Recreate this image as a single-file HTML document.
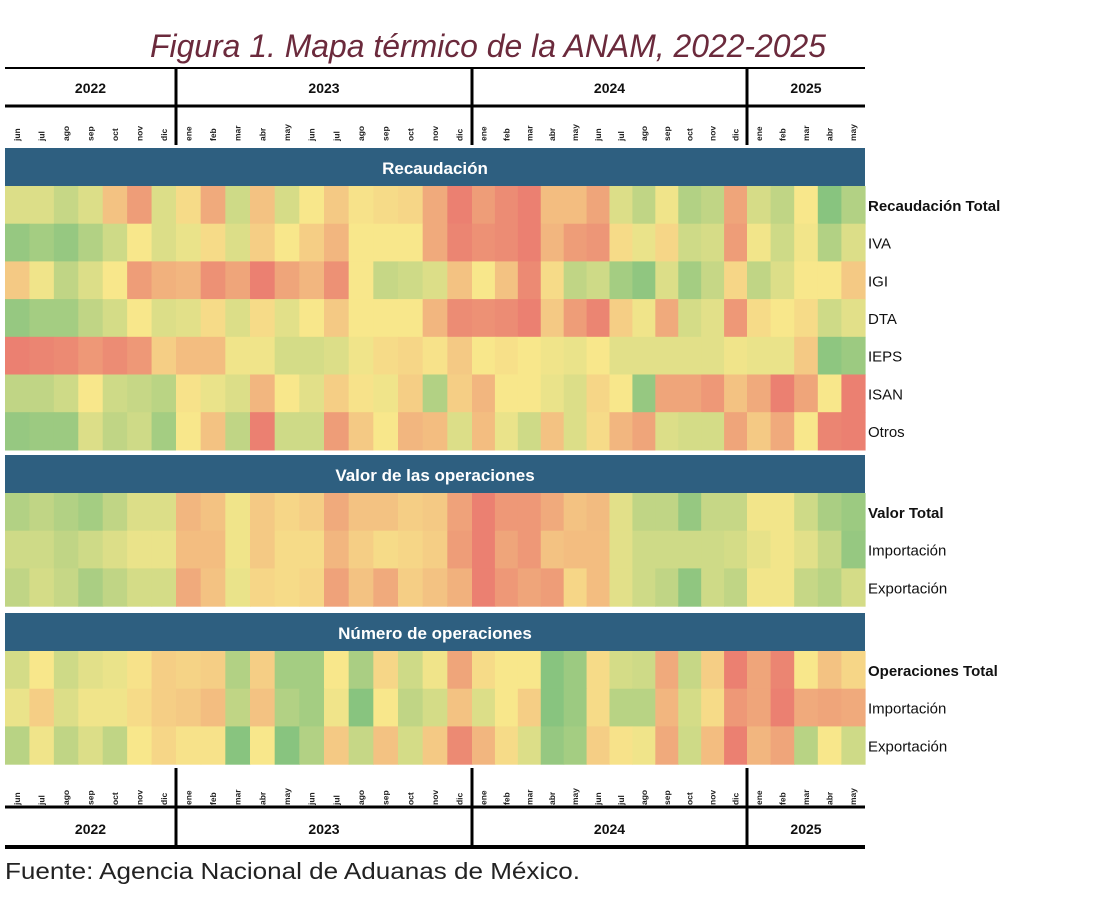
<!DOCTYPE html>
<html><head><meta charset="utf-8"><style>
html,body{margin:0;padding:0;background:#fff;width:1101px;height:901px;overflow:hidden}
svg{display:block}
text{font-family:"Liberation Sans",sans-serif}
</style></head><body>
<svg id="chart" width="1101" height="901" viewBox="0 0 1101 901" xmlns="http://www.w3.org/2000/svg">
<text x="150" y="57" textLength="676" lengthAdjust="spacingAndGlyphs" font-size="32" font-style="italic" fill="#6b2a3c">Figura 1. Mapa térmico de la ANAM, 2022-2025</text>
<text x="5" y="879" textLength="575" lengthAdjust="spacingAndGlyphs" font-size="23" fill="#222">Fuente: Agencia Nacional de Aduanas de México.</text>
</svg>
<script>
const years = ["2022","2023","2024","2025"];
const monthsPerYear = [
  ["jun","jul","ago","sep","oct","nov","dic"],
  ["ene","feb","mar","abr","may","jun","jul","ago","sep","oct","nov","dic"],
  ["ene","feb","mar","abr","may","jun","jul","ago","sep","oct","nov","dic"],
  ["ene","feb","mar","abr","may"]
];
const sections = ["Recaudación","Valor de las operaciones","Número de operaciones"];
const rowLabels = [
  ["Recaudación Total","IVA","IGI","DTA","IEPS","ISAN","Otros"],
  ["Valor Total","Importación","Exportación"],
  ["Operaciones Total","Importación","Exportación"]
];
// scores 0 (red) .. 5 (yellow) .. 10 (green)
const recTotal = [6,6,6.8,6,3.5,2,6,4.5,2.5,6.5,3.5,6.2,5,3.8,4.8,4.5,4.3,2.5,0.8,2,1.3,0.8,3.3,3.3,2.3,6,7,5.3,7.5,7,2.3,6.2,7,5,9,7.5];
const recIVA = [8.5,8,8.5,7.5,6.5,5,6,5.5,4.5,6,4,5,4,3,5,5,5,2.5,1,1.5,1.3,0.8,3,2,1.7,4.5,5.5,4.3,6.5,6.2,2,5.2,6.5,5.2,7.5,6];
const recIGI = [3.8,5.3,7,6,5,2,2.8,3,1.5,2.3,0.8,2.3,3,1.5,5,6.8,6.5,6,3.5,5,3.5,1.2,4.5,7,6.5,8,8.7,6,8,6.8,4.3,7,6,5,5,3.8];
const recDTA = [8.5,8,8,7,6.3,5,6,5.8,4.5,6,4.5,5.8,5,3.8,5,5,5,3,1.3,1.5,1.3,0.8,3.8,2,1,4,5.3,2.5,6.3,5.8,1.8,4.5,5,4.5,6.5,5.8];
const recIEPS = [0.8,1,1.2,1.8,1.3,1.8,4,3.3,3.3,5.3,5.3,6.3,6.3,6,5.3,4.5,4.3,4.8,3.8,5,4.7,5,5.3,5.5,5,5.8,5.8,5.8,5.8,5.8,5.3,5.5,5.5,3.8,8.8,8.3];
const recISAN = [7,7,6.5,5,6.5,6.8,7.2,4.8,5.5,6,3,5,5.8,4,4.8,5.3,4,7.5,4,3,5,5,5.5,6,4.3,5,8.5,2.3,2.3,1.8,3.5,2.5,0.8,2.3,5,0.8];
const recOtros = [8.5,8.3,8.3,6,7,6.5,8,5,3.5,7,0.8,6.5,6.5,2,3.8,5,3,3.3,6,3.3,5.5,6.5,3.5,6,4.5,3,2.3,6,6.3,6.3,2.3,3.8,2.5,5,1,0.8];
const valTotal = [7.5,7,7.5,8,7,6,6,3,3.5,5.3,3.8,4.3,4,2.5,3.5,3.5,4,3.8,2.2,0.8,1.8,1.8,2.5,3.5,3.2,5.8,7,7,8.5,6.8,6.8,5.2,5.2,6.5,7.8,8.3];
const valImp = [6.5,6.5,7,6.5,6,5.5,5.5,3.3,3.3,5.3,3.8,4.5,4.5,3,4,4.5,4.3,4,2,0.8,2.3,1.8,3.5,3.3,3.3,5.8,6.5,6.5,6.5,6.5,6.3,5.6,5.2,5.8,6.8,8.5];
const valExp = [7,6.3,6.8,7.8,7,6.3,6.3,2.5,3.5,5.5,4.3,4.5,4.3,2.2,3.5,2.5,4,3.5,2.8,0.8,1.8,2.3,2,4.3,3.3,5.8,6.5,7,8.7,6.5,7,5.2,5.2,6.8,7.3,6.3];
const opsTotal = [6.3,5,6.5,5.8,5.5,4.8,4,4.2,4,7.5,4,8,8,5,7.8,4.3,6.5,5.3,2.3,4.5,5,5,9,8.3,4.5,6.3,6.5,2.5,6.8,4,0.8,2.3,1,5,3.5,4.3];
const opsImp = [5.5,4,6,5.3,5.3,4.5,4,3.8,3.3,7,3.5,7.5,8,5.3,9,5,7,6.3,3.5,6,5,4,9,8.3,4.5,7.3,7.3,3,6.3,4.5,1.8,2.3,0.8,2.5,2.3,2.5];
const opsExp = [7.3,5.3,7,6,7,5,4.3,4.8,4.8,9,5,9,7.5,3.8,6.8,3.5,6.3,3.8,1.2,3,4.5,6,8.5,8,4,4.8,5.3,2.5,6.5,3.3,0.8,3,2.3,7.3,5,6.5];
const sectionSeries = [
  [recTotal,recIVA,recIGI,recDTA,recIEPS,recISAN,recOtros],
  [valTotal,valImp,valExp],
  [opsTotal,opsImp,opsExp]
];

// layout
const NS="http://www.w3.org/2000/svg";
const svg=document.getElementById('chart');
const yearEdges=[5,176,472,747,865];
const sectionTop=[148,455,613];
const headerH=38, rowH=37.7;
function mk(tag,attrs){const e=document.createElementNS(NS,tag);for(const k in attrs)e.setAttribute(k,attrs[k]);return e;}
const colYear=[],colInYear=[];
monthsPerYear.forEach((m,yi)=>m.forEach((_,mi)=>{colYear.push(yi);colInYear.push(mi);}));
function xCol(i){const yi=colYear[i];const w=(yearEdges[yi+1]-yearEdges[yi])/monthsPerYear[yi].length;return yearEdges[yi]+colInYear[i]*w;}
function wCol(i){const yi=colYear[i];return (yearEdges[yi+1]-yearEdges[yi])/monthsPerYear[yi].length;}
function lerp(a,b,t){return a.map((v,k)=>Math.round(v+(b[k]-v)*t));}
const cRed=[232,108,108],cYel=[248,231,139],cGrn=[108,187,124];
function color(v){const t=Math.max(0,Math.min(10,v))/10;const c=t<0.5?lerp(cRed,cYel,t*2):lerp(cYel,cGrn,(t-0.5)*2);return `rgb(${c[0]},${c[1]},${c[2]})`;}

sectionSeries.forEach((rows,si)=>{
  const top=sectionTop[si];
  const h=mk('rect',{x:5,y:top,width:860,height:headerH,fill:'#2e5f80'});
  
  
  svg.appendChild(h);
  const ht=mk('text',{x:435,y:top+26,'text-anchor':'middle','font-size':17,'font-weight':'bold',fill:'#fff'});
  ht.textContent=sections[si];
  
  
  svg.appendChild(ht);
  rows.forEach((vals,ri)=>{
    const y=top+headerH+ri*rowH;
    vals.forEach((v,ci)=>{
      const r=mk('rect',{x:xCol(ci).toFixed(2),y:y.toFixed(2),width:(wCol(ci)+0.6).toFixed(2),height:(rowH+0.6).toFixed(2),fill:color(v)});
      
      
      svg.appendChild(r);
    });
    const lab=mk('text',{x:868,y:(y+rowH/2+6).toFixed(1),'font-size':15,fill:'#111'});
    if(ri===0){lab.setAttribute('font-weight','bold');}
    lab.textContent=rowLabels[si][ri];
    
    
    svg.appendChild(lab);
  });
});

function axisBand(monthY1,yearLineA,yearLineB,yearTextY,sepY0,sepY1,thinTop,thickBottom){
  svg.appendChild(mk('line',{x1:5,x2:865,y1:yearLineA,y2:yearLineA,stroke:'#000','stroke-width':thinTop}));
  svg.appendChild(mk('line',{x1:5,x2:865,y1:yearLineB,y2:yearLineB,stroke:'#000','stroke-width':thickBottom}));
  years.forEach((yr,yi)=>{
    const t=mk('text',{x:(yearEdges[yi]+yearEdges[yi+1])/2,y:yearTextY,'text-anchor':'middle','font-size':14,'font-weight':'bold',fill:'#111'});
    t.textContent=yr;
    
    
    svg.appendChild(t);
  });
  for(let k=1;k<yearEdges.length-1;k++){
    svg.appendChild(mk('line',{x1:yearEdges[k],x2:yearEdges[k],y1:sepY0,y2:sepY1,stroke:'#000','stroke-width':3}));
  }
  colYear.forEach((yi,ci)=>{
    const cx=xCol(ci)+wCol(ci)/2+3;
    const t=mk('text',{x:cx,y:monthY1,'font-size':8.5,'font-weight':'bold',fill:'#222',transform:`rotate(-90 ${cx} ${monthY1})`});
    t.textContent=monthsPerYear[yi][colInYear[ci]];
    
    
    svg.appendChild(t);
  });
}
axisBand(141,68,106,93,68,145,2,3);
axisBand(805,807,847,834,768,847,3,4);
</script>
</body></html>
